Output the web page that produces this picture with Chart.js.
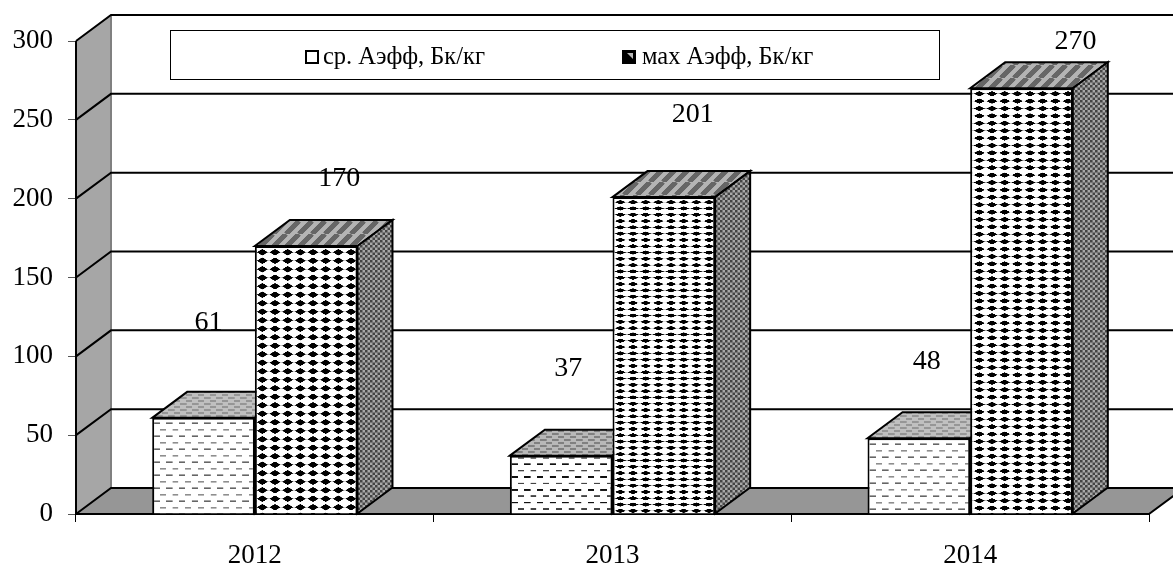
<!DOCTYPE html>
<html>
<head>
<meta charset="utf-8">
<style>html,body{margin:0;padding:0;background:#fff}canvas{display:block}</style>
<script src="https://cdn.jsdelivr.net/npm/chart.js@4"></script>
</head>
<body>
<canvas id="c" width="1173" height="565"></canvas>
<script>
const categories = ['2012', '2013', '2014'];
const seriesAvg = [61, 37, 48];
const seriesMax = [170, 201, 270];
const seriesNames = ['ср. Аэфф, Бк/кг', 'мах Аэфф, Бк/кг'];
const yTicks = [0, 50, 100, 150, 200, 250, 300];

const DEPTH_X = 35, DEPTH_Y = 26;
const FONT = '"Liberation Serif", "Times New Roman", serif';
// label shift from each bar's top-centre, as placed in the original
const labelShift = [
  [[5, -95], [7, -87], [8, -77]],
  [[33, -67], [29, -82], [54, -47]]
];

const ctx = document.getElementById('c').getContext('2d');

function tile(w, h, px, py, draw) {
  const k = 4, c = document.createElement('canvas');
  c.width = Math.round(w * k); c.height = Math.round(h * k);
  const g = c.getContext('2d');
  g.scale(c.width / w, c.height / h);
  draw(g, w, h);
  const p = ctx.createPattern(c, 'repeat');
  p.setTransform(new DOMMatrix().translate(px, py).scale(w / c.width, h / c.height));
  return p;
}
function diamonds(w, h, dw, dh, px, py) {
  return tile(w, h, px, py, (g) => {
    g.fillStyle = '#fff'; g.fillRect(0, 0, w, h);
    const cx = w / 2, cy = h / 2;
    g.fillStyle = '#aaa';
    g.fillRect(0, cy - 0.3, w, 0.6);
    g.fillStyle = '#000';
    g.beginPath();
    g.ellipse(cx, cy, dw * 0.32, dh * 0.42, 0, 0, Math.PI * 2);
    g.fill();
    g.beginPath();
    g.moveTo(cx - dw / 2, cy); g.lineTo(cx, cy - dh / 2);
    g.lineTo(cx + dw / 2, cy); g.lineTo(cx, cy + dh / 2); g.closePath(); g.fill();
  });
}
function dashes(w, h, color, light, px, py) {
  return tile(w, h * 2, px, py, (g) => {
    g.fillStyle = '#fff'; g.fillRect(0, 0, w, h * 2);
    g.fillStyle = color;
    g.fillRect(0.5, h * 0.5 - 0.8, w / 2, 1.6);
    g.fillStyle = light;
    g.fillRect(w / 2 + 0.5, h * 1.5 - 0.8, w / 2 - 0.5, 1.6);
  });
}
function checker(w, h, dark, light, px, py) {
  return tile(w, h, px, py, (g) => {
    g.fillStyle = light; g.fillRect(0, 0, w, h);
    g.fillStyle = dark;
    g.fillRect(0, 0, w / 2, h / 2);
    g.fillRect(w / 2, h / 2, w / 2, h / 2);
  });
}
function stripes(w, h, dark, light, px, py) {
  return tile(w, h, px, py, (g, W, H) => {
    g.fillStyle = light; g.fillRect(0, 0, W, H);
    g.strokeStyle = dark; g.lineWidth = W * 0.4;
    for (let i = -1; i <= 2; i++) {
      g.beginPath(); g.moveTo(i * W, H); g.lineTo(i * W + W, 0); g.stroke();
    }
  });
}
function hatch(w, h, dark, light, px, py) {
  return tile(w, h, px, py, (g) => {
    g.fillStyle = light; g.fillRect(0, 0, w, h);
    g.fillStyle = dark;
    g.fillRect(0, h * 0.2, w * 0.55, h * 0.3);
    g.fillRect(w * 0.5, h * 0.7, w * 0.5, h * 0.3);
  });
}

const frontAvg = [
  dashes(12.7, 6.5, '#666', '#8e8e8e', 153, 420),
  dashes(12.7, 6.4, '#111', '#444', 511, 461),
  dashes(12.7, 6.5, '#666', '#8e8e8e', 869, 441)
];
const frontMax = [
  diamonds(12.67, 8.5, 11, 6.4, 256, 248),
  diamonds(12.67, 6.3, 11, 4.2, 614, 199),
  diamonds(12.67, 7.4, 11, 5.2, 973, 90)
];
const topAvg = [
  hatch(12, 6, '#969696', '#c0c0c0', 0, 0),
  hatch(12, 6, '#808080', '#b8b8b8', 0, 0),
  hatch(12, 6, '#969696', '#c0c0c0', 0, 0)
];
const topMax = stripes(13, 13, '#666', '#b4b4b4', 0, 0);
const sideMax = checker(5, 5, '#444', '#a8a8a8', 0, 0);

const stage = {
  id: 'stage',
  beforeDatasetsDraw(chart) {
    const g = chart.ctx, y = chart.scales.y, a = chart.chartArea;
    const L = a.left, R = a.right, B = y.getPixelForValue(0), T = y.getPixelForValue(300);
    g.save();
    g.fillStyle = '#fff';
    g.fillRect(L + DEPTH_X, T - DEPTH_Y, R - L, B - T);
    g.fillStyle = '#a6a6a6';
    g.beginPath();
    g.moveTo(L, T); g.lineTo(L + DEPTH_X, T - DEPTH_Y);
    g.lineTo(L + DEPTH_X, B - DEPTH_Y); g.lineTo(L, B); g.closePath(); g.fill();
    g.fillStyle = '#969696';
    g.beginPath();
    g.moveTo(L, B); g.lineTo(L + DEPTH_X, B - DEPTH_Y);
    g.lineTo(R + DEPTH_X, B - DEPTH_Y); g.lineTo(R, B); g.closePath(); g.fill();
    g.strokeStyle = '#808080'; g.lineWidth = 2;
    g.beginPath(); g.moveTo(L + DEPTH_X, T - DEPTH_Y); g.lineTo(L + DEPTH_X, B - DEPTH_Y); g.stroke();
    g.strokeStyle = '#000'; g.lineWidth = 2;
    yTicks.forEach(v => {
      const p = y.getPixelForValue(v);
      g.beginPath();
      g.moveTo(L, p); g.lineTo(L + DEPTH_X, p - DEPTH_Y); g.lineTo(R + DEPTH_X, p - DEPTH_Y);
      if (v === 0) g.lineTo(R, p);
      g.stroke();
    });
    g.beginPath(); g.moveTo(L, T); g.lineTo(L, B); g.lineTo(R, B); g.stroke();

    chart.data.datasets.forEach((ds, di) => {
      chart.getDatasetMeta(di).data.forEach((bar, i) => {
        const l = bar.x - bar.width / 2, r = bar.x + bar.width / 2, t = bar.y, b = bar.base;
        g.lineWidth = 2; g.strokeStyle = '#000'; g.lineJoin = 'miter';
        g.fillStyle = di === 0 ? topAvg[i] : topMax;
        g.beginPath();
        g.moveTo(l, t); g.lineTo(l + DEPTH_X, t - DEPTH_Y);
        g.lineTo(r + DEPTH_X, t - DEPTH_Y); g.lineTo(r, t); g.closePath(); g.fill(); g.stroke();
        g.fillStyle = sideMax;
        g.beginPath();
        g.moveTo(r, t); g.lineTo(r + DEPTH_X, t - DEPTH_Y);
        g.lineTo(r + DEPTH_X, b - DEPTH_Y); g.lineTo(r, b); g.closePath(); g.fill(); g.stroke();
      });
    });
    g.restore();
  },
  afterDatasetsDraw(chart) {
    const g = chart.ctx;
    g.save();
    g.font = '28px ' + FONT;
    g.fillStyle = '#000';
    g.textAlign = 'center'; g.textBaseline = 'middle';
    chart.data.datasets.forEach((ds, di) => {
      chart.getDatasetMeta(di).data.forEach((bar, i) => {
        const s = labelShift[di][i];
        g.fillText(String(ds.data[i]), bar.x + s[0], bar.y + s[1]);
      });
    });
    g.fillStyle = '#fff';
    g.strokeStyle = '#000'; g.lineWidth = 1;
    g.fillRect(170.5, 30.5, 769, 49);
    g.strokeRect(170.5, 30.5, 769, 49);
    g.font = '24.5px ' + FONT;
    g.textAlign = 'left'; g.fillStyle = '#000';
    const keyX = [306, 623], textX = [323, 642];
    seriesNames.forEach((name, i) => {
      g.lineWidth = 2; g.strokeStyle = '#000';
      g.fillStyle = '#fff';
      g.fillRect(keyX[i], 51, 12, 12);
      g.strokeRect(keyX[i], 51, 12, 12);
      if (i === 1) {
        g.fillStyle = '#000';
        g.fillRect(keyX[i], 51, 12, 12);
        g.fillStyle = '#bbb';
        g.beginPath(); g.moveTo(keyX[i] + 4, 53); g.lineTo(keyX[i] + 10, 53);
        g.lineTo(keyX[i] + 10, 59); g.closePath(); g.fill();
      }
      g.fillStyle = '#000';
      g.fillText(name, textX[i], 58);
    });
    g.restore();
  }
};

new Chart(ctx, {
  type: 'bar',
  data: {
    labels: categories,
    datasets: [
      { label: seriesNames[0], data: seriesAvg, backgroundColor: frontAvg, borderColor: '#000', borderWidth: 2, categoryPercentage: 0.574, barPercentage: 1 },
      { label: seriesNames[1], data: seriesMax, backgroundColor: frontMax, borderColor: '#000', borderWidth: 2, categoryPercentage: 0.574, barPercentage: 1 }
    ]
  },
  options: {
    responsive: false,
    animation: false,
    events: [],
    layout: { padding: { top: 41, right: 24, bottom: 0, left: 0 } },
    plugins: { legend: { display: false }, tooltip: { enabled: false }, title: { display: false } },
    scales: {
      x: {
        afterFit: s => { s.height = 51; },
        grid: { drawOnChartArea: false, drawTicks: true, tickLength: 8, color: '#000', lineWidth: 1 },
        border: { display: false },
        ticks: { color: '#000', font: { family: FONT, size: 27 }, padding: 18, maxRotation: 0 }
      },
      y: {
        min: 0, max: 300,
        afterFit: s => { s.width = 76; },
        afterBuildTicks: s => { s.ticks = yTicks.map(v => ({ value: v })); },
        grid: { drawOnChartArea: false, drawTicks: true, tickLength: 8, color: '#555', lineWidth: 1 },
        border: { display: false },
        ticks: { color: '#000', font: { family: FONT, size: 27 }, padding: 15 }
      }
    }
  },
  plugins: [stage]
});
</script>
</body>
</html>
